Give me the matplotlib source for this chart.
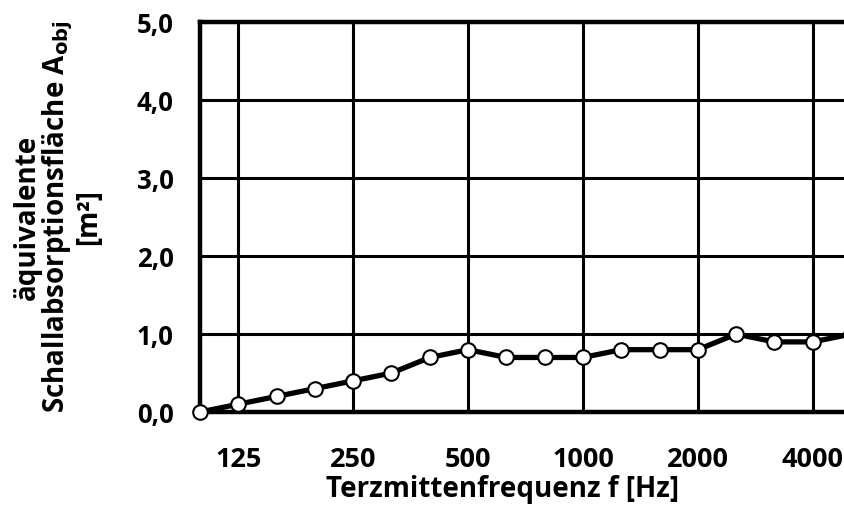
import numpy as np
import matplotlib
matplotlib.use('Agg')
from matplotlib import pyplot as plt

# terzband centre frequencies and equivalent absorption area
freqs = ['100', '125', '160', '200', '250', '315', '400', '500', '630', '800',
         '1000', '1250', '1600', '2000', '2500', '3150', '4000', '5000']
a_obj = [0.0, 0.1, 0.2, 0.3, 0.4, 0.5, 0.7, 0.8, 0.7, 0.7,
         0.7, 0.8, 0.8, 0.8, 1.0, 0.9, 0.9, 1.0]
labelled = ['125', '250', '500', '1000', '2000', '4000']
y_ticks = [0, 1, 2, 3, 4, 5]
y_ticklabels = ['0,0', '1,0', '2,0', '3,0', '4,0', '5,0']

plt.rcParams['font.family'] = ['Open Sans', 'DejaVu Sans']
plt.rcParams['font.weight'] = 'bold'

fig = plt.figure(figsize=(8.44, 5.07), dpi=100)
# axes runs past the right edge of the picture, like in the original
ax = fig.add_axes([200/844, 95/507, 651/844, 389.5/507])

x = np.arange(len(freqs))
xt = [freqs.index(f) for f in labelled]

for v in xt:
    ax.axvline(v, color='black', lw=2.2, zorder=1)
for v in y_ticks[1:]:
    ax.axhline(v, color='black', lw=2.2, zorder=1)

ax.plot(x, a_obj, color='black', lw=3.8, marker='o', ms=10.5,
        mfc='white', mec='black', mew=1.5, zorder=3, clip_on=False)

ax.set_xlim(0, len(freqs) - 1)
ax.set_ylim(0, 5)
ax.set_xticks(xt)
ax.set_xticklabels(labelled, fontsize=19.5, fontweight='bold')
ax.set_yticks(y_ticks)
ax.set_yticklabels(y_ticklabels, fontsize=18.5, fontweight='bold')
ax.tick_params(axis='x', length=0, pad=25)
ax.tick_params(axis='y', length=0, pad=19)

for s in ['left', 'bottom', 'top']:
    ax.spines[s].set_linewidth(3.2)
ax.spines['right'].set_visible(False)

ax.set_xlabel('Terzmittenfrequenz f [Hz]', fontsize=20, fontweight='bold')
ax.xaxis.set_label_coords(303/651, -63/389.5, transform=ax.transAxes)
ax.xaxis.label.set_va('top')
fig.text(58/844, 1 - 217/507,
         'äquivalente\nSchallabsorptionsfläche A$_{\\mathbf{obj}}$\n[m²]',
         rotation=90, ha='center', va='center', multialignment='center',
         fontsize=20, fontweight='bold', linespacing=0.95)

fig.savefig('out.png', dpi=100)
